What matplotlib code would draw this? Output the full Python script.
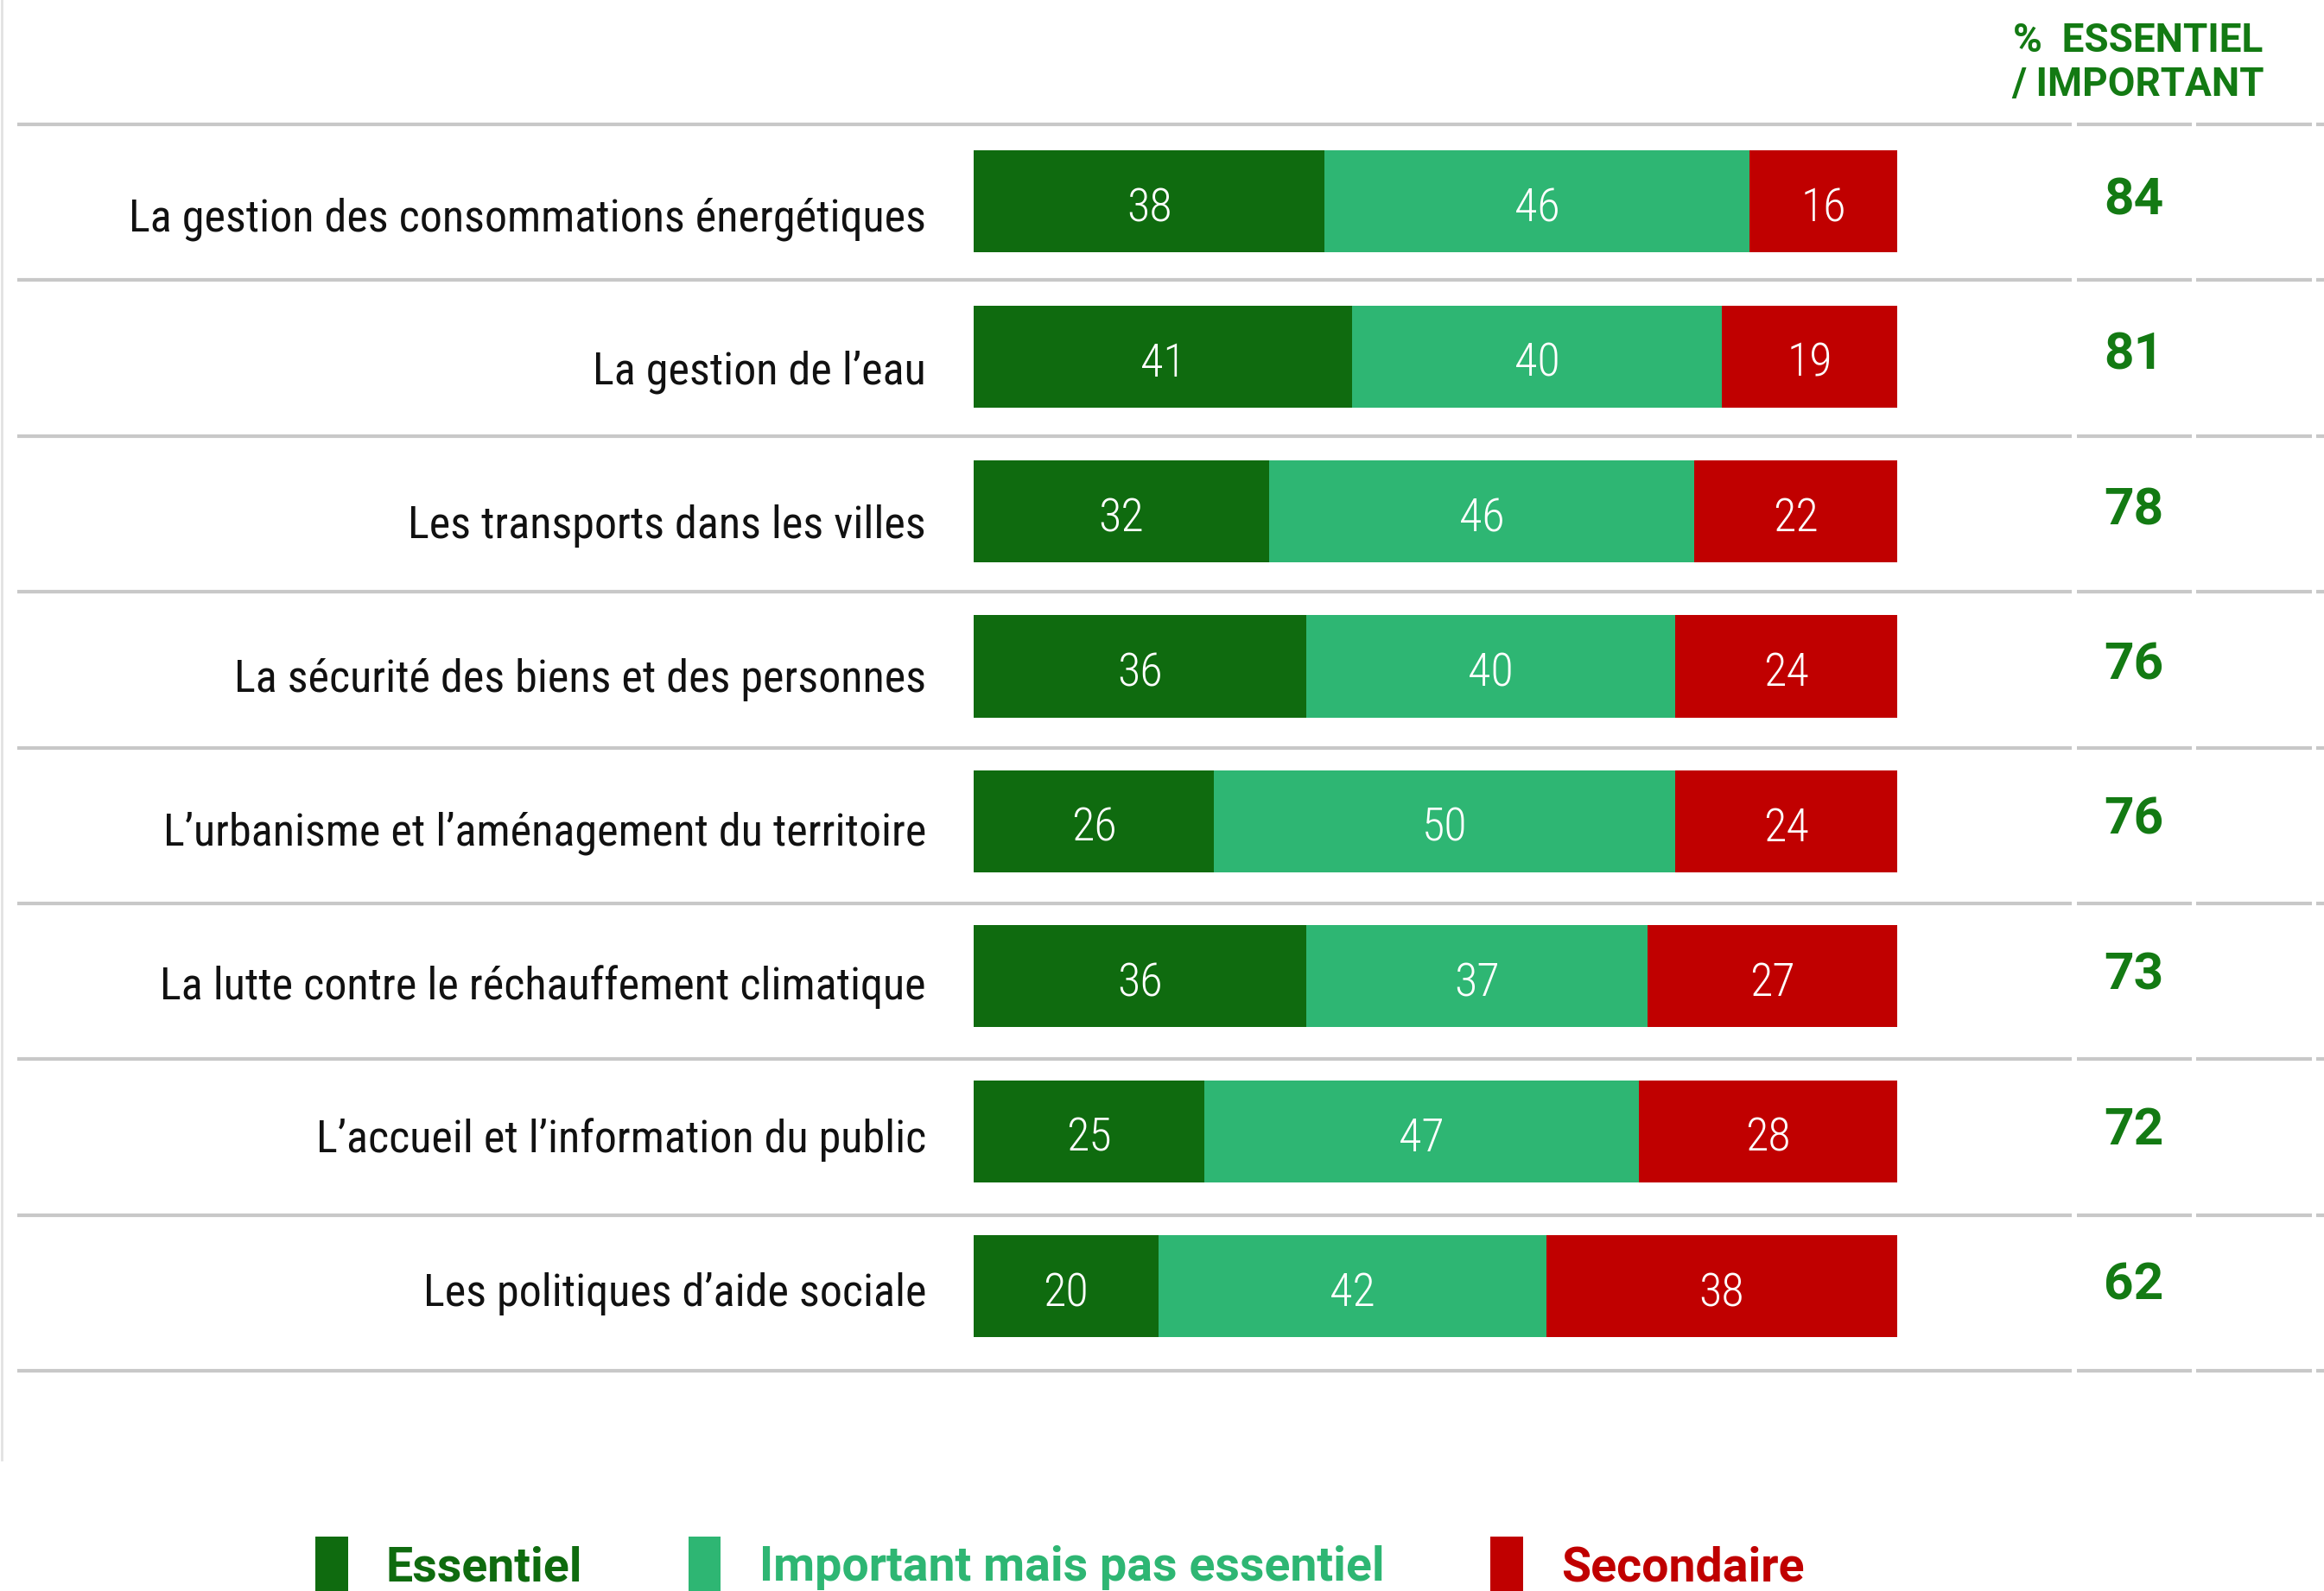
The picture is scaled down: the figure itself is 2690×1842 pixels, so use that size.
import matplotlib
matplotlib.use("Agg")
import matplotlib.pyplot as plt
from matplotlib import font_manager
from matplotlib.patches import Patch
from matplotlib.lines import Line2D
from matplotlib.transforms import blended_transform_factory

# donnees
categories = [
    "La gestion des consommations énergétiques",
    "La gestion de l’eau",
    "Les transports dans les villes",
    "La sécurité des biens et des personnes",
    "L’urbanisme et l’aménagement du territoire",
    "La lutte contre le réchauffement climatique",
    "L’accueil et l’information du public",
    "Les politiques d’aide sociale",
]
essentiel = [38, 41, 32, 36, 26, 36, 25, 20]
important = [46, 40, 46, 40, 50, 37, 47, 42]
secondaire = [16, 19, 22, 24, 24, 27, 28, 38]
total_ess_imp = [84, 81, 78, 76, 76, 73, 72, 62]
series_names = ["Essentiel", "Important mais pas essentiel", "Secondaire"]
header_lines = ["%  ESSENTIEL", "/ IMPORTANT"]

c_dark = "#0F6B0F"
c_light = "#2EB673"
c_red = "#C00000"
c_txt = "#137A13"

# polices les plus proches dispo
dispo = {f.name for f in font_manager.fontManager.ttflist}
def choisir(liste):
    for p in liste:
        if p in dispo:
            return p
    return "DejaVu Sans"
f_cond = choisir(["Roboto Condensed", "Roboto", "Noto Sans"])
f_bold = choisir(["Roboto", "Noto Sans"])
plt.rcParams["font.family"] = f_cond

W, H = 2690, 1842
def fy(px):  # pixel depuis le haut -> fraction figure
    return 1 - px / H

fig = plt.figure(figsize=(W / 100, H / 100), dpi=100)

# axe des barres : x 0..100 -> 1127..2196 px, centres des lignes 233..1489 px
x0, x1 = 1127, 2196
y_top, y_bot = 143.6, 1578.8
ax = fig.add_axes([x0 / W, fy(y_bot), (x1 - x0) / W, (y_bot - y_top) / H])
ax.set_xlim(0, 100)
ax.set_ylim(len(categories) - 0.5, -0.5)
ax.axis("off")

ypos = list(range(len(categories)))
h = 0.658
gauche = [0] * len(categories)
for vals, col in zip([essentiel, important, secondaire], [c_dark, c_light, c_red]):
    bars = ax.barh(ypos, vals, left=gauche, height=h, color=col, edgecolor="none")
    for b, v in zip(bars, vals):
        ax.text(b.get_x() + b.get_width() / 2, b.get_y() + b.get_height() / 2 + 0.128, str(v),
                ha="center", va="baseline", color="white", fontsize=39, fontweight="light")
    gauche = [g + v for g, v in zip(gauche, vals)]

# totaux a droite
tr = blended_transform_factory(fig.transFigure, ax.transData)
for i, tot in enumerate(total_ess_imp):
    ax.text(2470 / W, i + 0.084, str(tot), transform=tr, ha="center", va="baseline",
            fontsize=43.5, fontweight="bold", color=c_txt, family=f_bold)

# libelles (lignes de base a 267 px, pas de 177.9 px)
for i, lab in enumerate(categories):
    fig.text(1072 / W, fy(267 + i * 177.9), lab, ha="right", va="baseline",
             fontsize=37.5, color="#111111")

# separateurs
segments = [(20, 2398), (2404, 2537), (2542, 2676), (2681, 2690)]
for k in range(len(categories) + 1):
    yy = fy(144 + k * 180.4)
    for a, b in segments:
        fig.add_artist(Line2D([a / W, b / W], [yy, yy], transform=fig.transFigure,
                              color="#C8C8C8", lw=3, solid_capstyle="butt"))

# en-tete de la colonne de droite
for txt, base in zip(header_lines, [60, 111]):
    fig.text(2475 / W, fy(base), txt, ha="center", va="baseline", fontsize=33,
             fontweight="bold", color=c_txt, family=f_bold)

# bord gauche
fig.add_artist(Line2D([1.5 / W, 1.5 / W], [fy(1690), 1], transform=fig.transFigure,
                      color="#E2E2E2", lw=2))

# legende
handles = [Patch(facecolor=c, edgecolor="none") for c in [c_dark, c_light, c_red]]
leg = fig.legend(handles, series_names, loc="center", bbox_to_anchor=(0.456, fy(1812)),
                 ncol=3, frameon=False, handlelength=0.68, handleheight=1.45,
                 handletextpad=0.8, columnspacing=2.2,
                 prop={"family": f_bold, "weight": "bold", "size": 40})
for t, c in zip(leg.get_texts(), [c_dark, c_light, c_red]):
    t.set_color(c)

fig.savefig("out.png", dpi=100, facecolor="white")
